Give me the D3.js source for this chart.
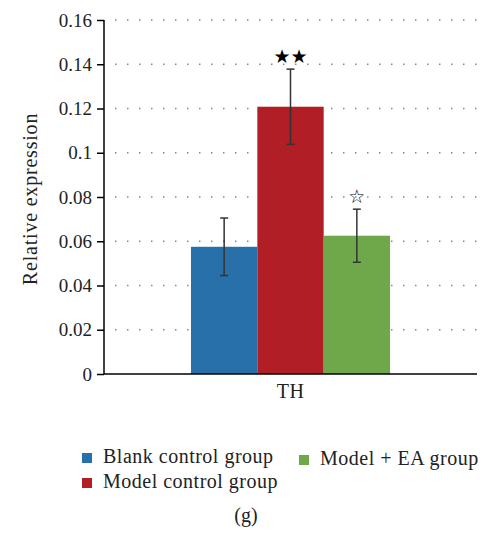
<!DOCTYPE html>
<html><head><meta charset="utf-8">
<script src="https://cdn.jsdelivr.net/npm/d3@7"></script>
<style>body{margin:0;background:#fff}svg{display:block}
.ser{font-family:"Liberation Serif","Times New Roman","DejaVu Serif",serif}
</style>
</head><body>
<script>
const categories = ["TH"];
const groups = ["Blank control group", "Model control group", "Model + EA group"];
const colors = ["#2870aa", "#b11e25", "#6fa84b"];
const means = [0.0575, 0.1208, 0.0625];
const errors = [0.013, 0.017, 0.012];
const marks = ["", "★★", "☆"];
const yTicks = [0, 0.02, 0.04, 0.06, 0.08, 0.1, 0.12, 0.14, 0.16];
const yTickLabels = ["0", "0.02", "0.04", "0.06", "0.08", "0.1", "0.12", "0.14", "0.16"];

const W = 483, H = 535;
const svg = d3.select("body").append("svg").attr("width", W).attr("height", H).attr("class", "ser");

const m = {left: 104, right: 6, top: 20, bottom: 161};
const iw = W - m.left - m.right, ih = H - m.top - m.bottom;
const g = svg.append("g").attr("transform", `translate(${m.left},${m.top})`);

const y = d3.scaleLinear().domain([0, 0.16]).range([ih, 0]);
const x0 = d3.scaleBand().domain(categories).range([0, iw]).paddingInner(0).paddingOuter(0.437);
const x1 = d3.scaleBand().domain(groups).range([0, x0.bandwidth()]);

// gridlines
g.append("g").selectAll("line").data(yTicks.slice(1)).join("line")
  .attr("x1", 11).attr("x2", iw).attr("y1", d => y(d)).attr("y2", d => y(d))
  .attr("stroke", "#888").attr("stroke-width", 1.5).attr("stroke-dasharray", "1.5,10.5");

// bars
const cat = g.append("g").selectAll("g").data(categories).join("g")
  .attr("transform", d => `translate(${x0(d)},0)`);
const data = groups.map((k, i) => ({k, v: means[i], e: errors[i], c: colors[i], s: marks[i]}));
cat.selectAll("rect").data(data).join("rect")
  .attr("x", d => x1(d.k)).attr("width", x1.bandwidth())
  .attr("y", d => y(d.v)).attr("height", d => ih - y(d.v)).attr("fill", d => d.c);

// error bars
const eb = cat.selectAll("g.eb").data(data).join("g").attr("class", "eb")
  .attr("stroke", "#333").attr("stroke-width", 1.5);
eb.append("line").attr("x1", d => x1(d.k) + x1.bandwidth()/2).attr("x2", d => x1(d.k) + x1.bandwidth()/2)
  .attr("y1", d => y(d.v + d.e)).attr("y2", d => y(d.v - d.e));
eb.append("line").attr("x1", d => x1(d.k) + x1.bandwidth()/2 - 4).attr("x2", d => x1(d.k) + x1.bandwidth()/2 + 4)
  .attr("y1", d => y(d.v + d.e)).attr("y2", d => y(d.v + d.e));
eb.append("line").attr("x1", d => x1(d.k) + x1.bandwidth()/2 - 4).attr("x2", d => x1(d.k) + x1.bandwidth()/2 + 4)
  .attr("y1", d => y(d.v - d.e)).attr("y2", d => y(d.v - d.e));

// significance marks
cat.selectAll("text.sig").data(data.filter(d => d.s)).join("text").attr("class", "sig")
  .attr("x", d => x1(d.k) + x1.bandwidth()/2).attr("y", d => y(d.v + d.e) - 6)
  .attr("text-anchor", "middle").style("font-family", "'DejaVu Sans', sans-serif")
  .attr("font-size", 19).attr("fill", "#000").text(d => d.s);

// y axis
const ya = g.append("g").call(d3.axisLeft(y).tickValues(yTicks).tickSize(7).tickPadding(5)
  .tickFormat((d, i) => yTickLabels[i]));
ya.attr("font-family", null).attr("font-size", null);
ya.select(".domain").attr("stroke-width", 1.5).attr("d", `M0,${ih}V0`);
ya.selectAll(".tick line").attr("stroke-width", 1.5);
ya.selectAll("text").attr("font-size", 19).attr("fill", "#222");

// x axis
const xa = g.append("g").attr("transform", `translate(0,${ih})`)
  .call(d3.axisBottom(x0).tickSize(0).tickPadding(10));
xa.attr("font-family", null).attr("font-size", null);
xa.select(".domain").attr("stroke-width", 1.5).attr("d", `M0,0H${iw}`);
xa.selectAll("text").attr("font-size", 20).attr("fill", "#222").attr("letter-spacing", 0.5);

// y label
svg.append("text").attr("transform", `translate(37,199) rotate(-90)`)
  .attr("text-anchor", "middle").attr("font-size", 20).attr("letter-spacing", 0.8)
  .attr("fill", "#222").text("Relative expression");

// legend
const legPos = [[82, 453], [82, 478], [299, 455]];
const leg = svg.append("g").selectAll("g").data(groups).join("g")
  .attr("transform", (d, i) => `translate(${legPos[i][0]},${legPos[i][1]})`);
leg.append("rect").attr("width", 10).attr("height", 10).attr("fill", (d, i) => colors[i]);
leg.append("text").attr("x", 21).attr("y", 10).attr("font-size", 20).attr("letter-spacing", 0.5)
  .attr("fill", "#222").text(d => d);

svg.append("text").attr("x", 246).attr("y", 522).attr("text-anchor", "middle")
  .attr("font-size", 20).attr("fill", "#222").text("(g)");
</script>
</body></html>
